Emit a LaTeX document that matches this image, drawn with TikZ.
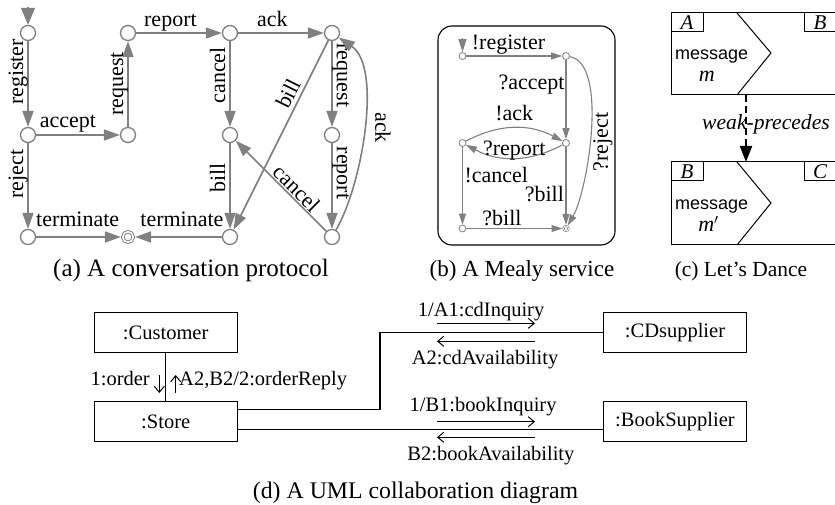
\documentclass[tikz,border=0pt]{standalone}
\usepackage{fontspec}
\setmainfont{Liberation Serif}
\newfontfamily\helv{Liberation Sans}
\usetikzlibrary{arrows.meta}
\newcommand\myfs[1]{\fontsize{#1}{#1}\selectfont}

\begin{document}
\begin{tikzpicture}[x=1pt,y=1pt,font=\myfs{22},
  % conversation protocol
  st/.style={circle,draw=gray,line width=1.3pt,minimum size=15pt,inner sep=0pt,fill=white},
  fin/.style={circle,draw=gray,line width=1pt,double=white,double distance=1.5pt,
    minimum size=10.5pt,inner sep=0pt,outer sep=1.8pt},
  ta/.style={draw=gray,line width=1.6pt,-{Triangle[length=16pt,width=11pt]}},
  tinit/.style={draw=gray,line width=1.6pt,-{Triangle[length=17pt,width=14pt]}},
  lb/.style={anchor=south,text depth=0pt,inner sep=#1},
  lbl/.style={lb=#1,rotate=90},
  lbr/.style={lb=#1,rotate=-90},
  % Mealy service
  sm/.style={circle,draw=gray,line width=0.8pt,minimum size=7pt,inner sep=0pt,fill=white},
  smf/.style={circle,draw=gray,line width=0.6pt,double=white,double distance=0.8pt,
    minimum size=5pt,inner sep=0pt,outer sep=1pt},
  tb/.style={draw=gray,line width=1.1pt,-{Triangle[length=11pt,width=7pt]}},
  tbinit/.style={draw=gray,line width=1.1pt,-{Triangle[length=13pt,width=8pt]}},
  % UML collaboration
  box/.style={draw,line width=1.1pt,minimum width=143pt,minimum height=40pt,inner sep=0pt,font=\myfs{20.5}},
  ln/.style={line width=1.1pt},
  ma/.style={line width=1pt,-{Straight Barb[length=6pt,width=10pt]}},
  ml/.style={font=\myfs{20.5},anchor=base,inner sep=0pt},
  capt/.style={anchor=base,inner sep=0pt}
]
\useasboundingbox (0,0) rectangle (835,504);

%% ---------- (a) conversation protocol ----------
\node[st] (s0) at (28,471) {};
\node[st] (s1) at (28,369) {};
\node[st] (s2) at (28,267) {};
\node[fin] (f) at (128,267) {};
\node[st] (s3) at (128,369) {};
\node[st] (s4) at (128,471) {};
\node[st] (s5) at (230,471) {};
\node[st] (s6) at (230,369) {};
\node[st] (s7) at (230,267) {};
\node[st] (s8) at (332,471) {};
\node[st] (s9) at (332,369) {};
\node[st] (s10) at (332,267) {};
\coordinate (s0in) at (28,497);

\draw[tinit] (s0in) -- (s0);
\draw[ta] (s0) -- node[lbl=4pt,pos=0.36]{register} (s1);
\draw[ta] (s1) -- node[lb=7pt,pos=0.38]{accept} (s3);
\draw[ta] (s1) -- node[lbl=4pt,pos=0.36]{reject} (s2);
\draw[ta] (s2) -- node[lb=10pt,pos=0.49]{terminate} (f);
\draw[ta] (s3) -- node[lbl=4pt,pos=0.5]{request} (s4);
\draw[ta] (s4) -- node[lb=6pt,pos=0.4]{report} (s5);
\draw[ta] (s5) -- node[lb=6pt,pos=0.4]{ack} (s8);
\draw[ta] (s5) -- node[lbl=4pt,pos=0.4]{cancel} (s6);
\draw[ta] (s6) -- node[lbl=4pt,pos=0.41]{bill} (s7);
\draw[ta] (s7) -- node[lb=10pt,pos=0.46]{terminate} (f);
\draw[ta] (s8) -- node[lb=4pt,sloped,pos=0.31]{bill} (s7);
\draw[ta] (s8) -- node[lbr=4pt,pos=0.4]{request} (s9);
\draw[ta] (s9) -- node[lbr=4pt,pos=0.35]{report} (s10);
\draw[ta] (s10) -- node[lb=1pt,sloped,pos=0.4]{cancel} (s6);
\draw[ta] (s10) to[out=60,in=-34,looseness=0.7] node[lbr=11pt,pos=0.5]{ack} (s8);

\node[capt,font=\myfs{25}] (capa) at (191,228) {(a) A conversation protocol};

%% ---------- (b) Mealy service ----------
\draw[line width=1.1pt,rounded corners=14pt] (438,478) rectangle (615,259);
\node[sm] (b0) at (462.5,448) {};
\node[sm] (b1) at (566,448) {};
\node[sm] (b2) at (566,361) {};
\node[sm] (b3) at (462.5,361) {};
\node[sm] (b4) at (462.5,275.5) {};
\node[smf] (b5) at (566,275.5) {};
\coordinate (b0in) at (462.5,466);

\draw[tbinit] (b0in) -- (b0);
\draw[tb] (b0) -- node[lb=6pt,pos=0.44]{!register} (b1);
\draw[tb] (b1) -- node[pos=0.37,anchor=base east,inner sep=1pt]{?accept} (b2);
\draw[tb] (b3) to[bend left=28] node[lb=7pt,pos=0.5]{!ack} (b2);
\draw[tb] (b2) to[bend left=28] node[pos=0.5,anchor=base,inner sep=0pt,yshift=3pt]{?report} (b3);
\draw[tb] (b3) -- node[pos=0.46,anchor=base west,inner sep=1.5pt]{!cancel} (b4);
\draw[tb] (b4) -- node[lb=2.5pt,pos=0.37]{?bill} (b5);
\draw[tb] (b2) -- node[pos=0.70,anchor=base east,inner sep=1.5pt]{?bill} (b5);
\draw[tb] (b1) to[out=-10,in=60,looseness=0.6] node[pos=0.55,anchor=north,rotate=90,inner sep=3pt]{?reject} (b5);

\node[capt,font=\myfs{23}] (capb) at (522,228) {(b) A Mealy service};

%% ---------- (c) Let's Dance ----------
\begin{scope}[line width=1pt]
  % first interaction
  \draw (836,491) -- (671,491) -- (671,409) -- (836,409);
  \draw (671,472) -- (703,472) -- (703,491);
  \draw (804,491) -- (804,472) -- (836,472);
  \draw (737,491) -- (771,451) -- (737,409);
  % second interaction
  \draw (836,342) -- (671,342) -- (671,259) -- (836,259);
  \draw (671,323) -- (703,323) -- (703,342);
  \draw (804,342) -- (804,323) -- (836,323);
  \draw (737,342) -- (771,301) -- (737,259);
\end{scope}
\node[font=\myfs{21}\itshape] (ra) at (687,481.5) {A};
\node[font=\myfs{21}\itshape] (rb) at (820,481.5) {B};
\node[font=\helv\myfs{18},anchor=base] (msg1) at (711.7,444) {message};
\node[font=\myfs{22}\itshape,anchor=base] (m1) at (706.7,422) {m};
\node[font=\myfs{21}\itshape] (rb2) at (687,332.5) {B};
\node[font=\myfs{21}\itshape] (rc) at (820,332.5) {C};
\node[font=\helv\myfs{18},anchor=base] (msg2) at (711.7,294) {message};
\node[font=\myfs{22},anchor=base] (m2) at (708.5,272) {\textit{m}$'$};
\node[font=\myfs{21.6}\itshape,anchor=base] (wp) at (766,374) {weak-precedes};
\coordinate (lda) at (746,409);
\coordinate (ldb) at (746,342);
\draw[line width=2pt,dash pattern=on 7pt off 4pt,-{Triangle[length=16pt,width=12pt]}] (lda) -- (ldb);

\node[capt,font=\myfs{21.5}] (capc) at (741,228) {(c) Let's Dance};

%% ---------- (d) UML collaboration ----------
\node[box] (cust) at (165.7,171.3) {:Customer};
\node[box] (store) at (165.7,82.3) {:Store};
\node[box] (cd) at (675,171.3) {:CDsupplier};
\node[box] (book) at (675,82.3) {:BookSupplier};
\coordinate (cdbend) at (380,171.3);

\draw[ln] (cust) -- (store);
\draw[ln] ([yshift=12pt]store.east) -| (cdbend) -- (cd.west);
\draw[ln] ([yshift=-8pt]store.east) -- ([yshift=-8pt]book.west);

\coordinate (o1a) at (159.3,129);
\coordinate (o1b) at (159.3,111);
\coordinate (o2a) at (175.7,111);
\coordinate (o2b) at (175.7,129);
\draw[ma] (o1a) -- node[ml,anchor=base east,xshift=-9pt,yshift=-1pt]{1:order} (o1b);
\draw[ma] (o2a) -- node[ml,anchor=base west,xshift=3pt,yshift=-1pt]{A2,B2/2:orderReply} (o2b);

\coordinate (c1a) at (437,180.7);
\coordinate (c1b) at (535,180.7);
\coordinate (c2a) at (535,162.7);
\coordinate (c2b) at (437,162.7);
\coordinate (k1a) at (437,82.3);
\coordinate (k1b) at (535,82.3);
\coordinate (k2a) at (535,66.7);
\coordinate (k2b) at (437,66.7);
\draw[ma] (c1a) -- node[ml,pos=0.45,yshift=6.6pt]{1/A1:cdInquiry} (c1b);
\draw[ma] (c2a) -- node[ml,pos=0.51,yshift=-22.7pt]{A2:cdAvailability} (c2b);
\draw[ma] (k1a) -- node[ml,pos=0.47,yshift=10pt]{1/B1:bookInquiry} (k1b);
\draw[ma] (k2a) -- node[ml,pos=0.45,yshift=-22.7pt]{B2:bookAvailability} (k2b);

\node[capt,font=\myfs{23.8}] (capd) at (415.5,6) {(d) A UML collaboration diagram};
\end{tikzpicture}
\end{document}
